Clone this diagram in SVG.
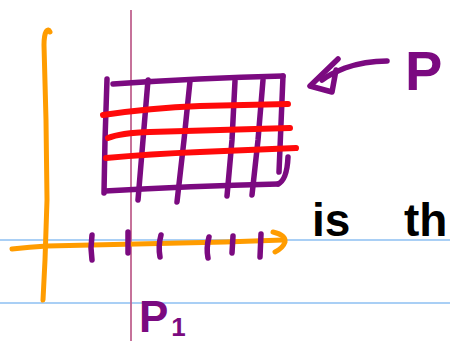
<svg xmlns="http://www.w3.org/2000/svg" width="450" height="341" viewBox="0 0 450 341">
<style>
.ink{fill:none;stroke-linecap:round;stroke-linejoin:round}
.pur{stroke:#7b0a80;stroke-width:5.5}
.red{stroke:#ff0a0a;stroke-width:6}
.org{stroke:#ff9c00;stroke-width:5}
.rule{stroke:#a9cff5;stroke-width:2}
.hand{font-family:"Liberation Sans","DejaVu Sans",sans-serif;font-weight:bold}
</style>
<rect width="450" height="341" fill="#ffffff"/>
<g id="paper">
<line class="rule" x1="0" y1="240" x2="450" y2="240"/>
<line class="rule" x1="0" y1="303" x2="450" y2="303"/>
<line x1="131" y1="10" x2="131" y2="341" stroke="#c0638f" stroke-width="1.8"/>
</g>
<g id="axes">
<path class="ink org" d="M50,32 C48,27 44,31 44,45 L46,120 L47,200 L45,260 L43,300"/>
<path class="ink org" d="M12,249 Q30,247 47,246 L225,242 L283,240"/>
<path class="ink org" d="M273,232 Q286,235 285,242 Q283,248 275,252"/>
</g>
<g id="ticks">
<path class="ink pur" d="M92,235 L91,248 L92,260"/>
<path class="ink pur" d="M128,232 L128,253"/>
<path class="ink pur" d="M161,235 Q158,246 160,257"/>
<path class="ink pur" d="M209,237 Q206,248 208,258"/>
<path class="ink pur" d="M233,236 L232,253"/>
<path class="ink pur" d="M261,234 L260,257"/>
</g>
<g id="grid">
<path class="ink pur" d="M107,79 L105,140 L104,193"/>
<path class="ink pur" d="M113,84 Q200,78 283,76"/>
<path class="ink pur" d="M283,76 L279,172"/>
<path class="ink pur" d="M288,157 Q287,180 278,184"/>
<path class="ink pur" d="M105,191 Q190,186 278,184"/>
<path class="ink pur" d="M148,80 L143,140 L138,200"/>
<path class="ink pur" d="M190,81 L184,140 L177,202"/>
<path class="ink pur" d="M235,81 L232,140 L227,196"/>
<path class="ink pur" d="M263,80 L258,140 L252,195"/>
<path class="ink red" d="M103,115 Q150,108 200,106 L288,104"/>
<path class="ink red" d="M108,138 Q120,133 150,132 L290,128"/>
<path class="ink red" d="M106,158 Q150,154 200,152 L296,148"/>
</g>
<g id="pointer">
<path class="ink pur" d="M387,61 Q365,61 345,68 Q330,74 322,80"/>
<path class="ink pur" d="M338,59 L310,86 L332,92 L336,70"/>
</g>
<g id="labels">
<text class="hand" x="405" y="90" font-size="56" fill="#7b0a80">P</text>
<text class="hand" x="139" y="332" font-size="44" fill="#7b0a80">P<tspan font-size="26" dx="3" dy="4">1</tspan></text>
<text class="hand" font-size="46" fill="#000000"><tspan x="312" y="236">is</tspan> <tspan x="404" y="236">th</tspan></text>
</g>
</svg>
